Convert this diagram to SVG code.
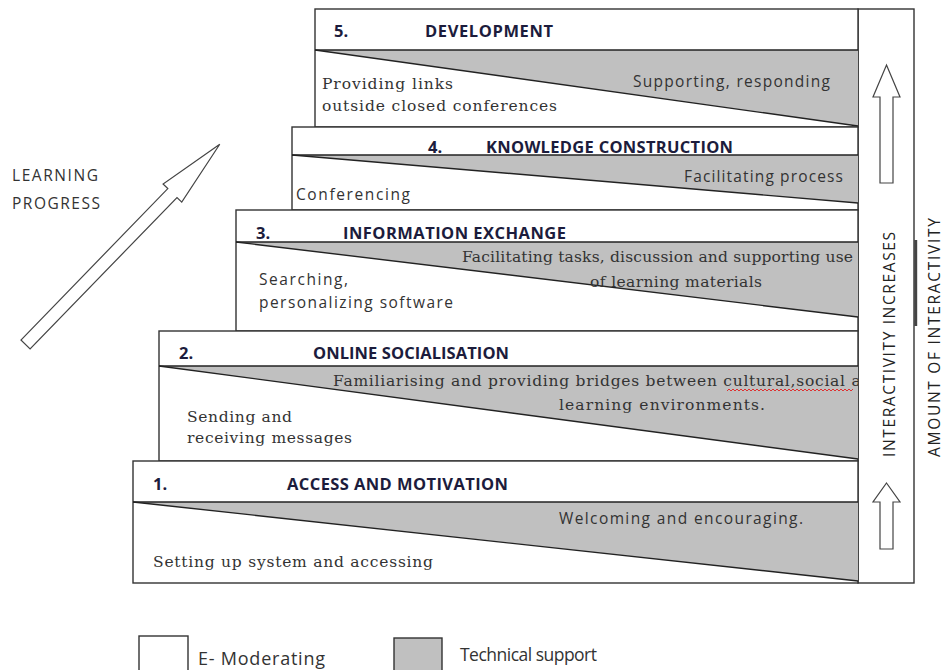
<svg xmlns="http://www.w3.org/2000/svg" width="945" height="670" viewBox="0 0 945 670">
<style>
.box{fill:#fff;stroke:#333;stroke-width:1.4}
.tri{fill:#c0c0c0;stroke:none}
.ln{stroke:#222;stroke-width:1.4;fill:none}
.hd{font-family:"Open Sans","Liberation Sans",sans-serif;font-size:16.5px;font-weight:bold;fill:#1c1c3c}
.ss{font-family:"Open Sans","Liberation Sans",sans-serif;font-size:15.5px;fill:#333}
.sf{font-family:"DejaVu Serif","Liberation Serif",serif;font-size:15.5px;fill:#333}
.arr{fill:#fff;stroke:#444;stroke-width:1.2}
.vt{font-family:"Open Sans","Liberation Sans",sans-serif;font-size:15.5px;fill:#222}
</style>
<defs>
<clipPath id="c2"><rect x="159" y="331" width="699" height="130"/></clipPath>
</defs>

<g id="column">
<rect class="box" x="858" y="9" width="56" height="574"/>
<line x1="915.7" y1="240" x2="915.7" y2="326" stroke="#444" stroke-width="3"/>
<polygon class="arr" points="886.5,65 900,97 893,97 893,183 880,183 880,97 873,97"/>
<polygon class="arr" points="886.5,483 900,502 893,502 893,549 880,549 880,502 873,502"/>
<text class="vt" transform="translate(895,344.5) rotate(-90)" text-anchor="middle" textLength="225">INTERACTIVITY INCREASES</text>
<text class="vt" transform="translate(940,337.5) rotate(-90)" text-anchor="middle" textLength="239">AMOUNT OF INTERACTIVITY</text>
</g>

<g id="step5">
<rect class="box" x="315" y="9" width="543" height="118"/>
<polygon class="tri" points="315,50 858,50 858,126"/>
<line class="ln" x1="315" y1="50" x2="858" y2="50"/>
<line class="ln" x1="315" y1="50" x2="858" y2="126"/>
<text class="hd" x="334" y="37">5.</text>
<text class="hd" x="425" y="37" textLength="128">DEVELOPMENT</text>
<text class="sf" x="322" y="89" textLength="131">Providing links</text>
<text class="sf" x="322" y="111" textLength="235">outside closed conferences</text>
<text class="ss" x="633" y="87" textLength="197">Supporting, responding</text>
</g>

<g id="step4">
<rect class="box" x="292" y="127" width="566" height="83"/>
<polygon class="tri" points="292,155 858,155 858,203"/>
<line class="ln" x1="292" y1="155" x2="858" y2="155"/>
<line class="ln" x1="292" y1="155" x2="858" y2="203"/>
<text class="hd" x="428" y="153">4.</text>
<text class="hd" x="486" y="153" textLength="247">KNOWLEDGE CONSTRUCTION</text>
<text class="ss" x="296" y="200" textLength="114">Conferencing</text>
<text class="ss" x="684" y="182" textLength="159">Facilitating process</text>
</g>

<g id="step3">
<rect class="box" x="236" y="210" width="622" height="121"/>
<polygon class="tri" points="236,242 858,242 858,317"/>
<line class="ln" x1="236" y1="242" x2="858" y2="242"/>
<line class="ln" x1="236" y1="242" x2="858" y2="317"/>
<text class="hd" x="256" y="239">3.</text>
<text class="hd" x="343" y="239" textLength="223">INFORMATION EXCHANGE</text>
<text class="sf" x="462" y="262" textLength="391">Facilitating tasks, discussion and supporting use</text>
<text class="sf" x="590" y="287" textLength="172">of learning materials</text>
<text class="ss" x="259" y="285" textLength="89">Searching,</text>
<text class="ss" x="259" y="308" textLength="194">personalizing software</text>
</g>

<g id="step2">
<rect class="box" x="159" y="331" width="699" height="130"/>
<polygon class="tri" points="159,366 858,366 858,459"/>
<line class="ln" x1="159" y1="366" x2="858" y2="366"/>
<line class="ln" x1="159" y1="366" x2="858" y2="459"/>
<text class="hd" x="179" y="359">2.</text>
<text class="hd" x="313" y="359" textLength="196">ONLINE SOCIALISATION</text>
<g clip-path="url(#c2)">
<text class="sf" x="333" y="386" textLength="549">Familiarising and providing bridges between cultural,social and</text>
</g>
<path d="M727,391 l2,-2 l2,2 l2,-2 l2,2 l2,-2 l2,2 l2,-2 l2,2 l2,-2 l2,2 l2,-2 l2,2 l2,-2 l2,2 l2,-2 l2,2 l2,-2 l2,2 l2,-2 l2,2 l2,-2 l2,2 l2,-2 l2,2 l2,-2 l2,2 l2,-2 l2,2 l2,-2 l2,2 l2,-2 l2,2 l2,-2 l2,2 l2,-2 l2,2 l2,-2 l2,2 l2,-2 l2,2 l2,-2 l2,2 l2,-2 l2,2 l2,-2 l2,2 l2,-2 l2,2 l2,-2 l2,2 l2,-2 l2,2 l2,-2 l2,2 l2,-2 l2,2 l2,-2 l2,2 l2,-2 l2,2 l2,-2 l2,2 l2,-2" fill="none" stroke="#e02020" stroke-width="0.9"/>
<text class="sf" x="559" y="410" textLength="206">learning  environments.</text>
<text class="sf" x="187" y="422" textLength="105">Sending and</text>
<text class="sf" x="187" y="443" textLength="165">receiving messages</text>
</g>

<g id="step1">
<rect class="box" x="133" y="461" width="725" height="122"/>
<polygon class="tri" points="133,502 858,502 858,581"/>
<line class="ln" x1="133" y1="502" x2="858" y2="502"/>
<line class="ln" x1="133" y1="502" x2="858" y2="581"/>
<text class="hd" x="153" y="490">1.</text>
<text class="hd" x="287" y="490" textLength="221">ACCESS AND MOTIVATION</text>
<text class="ss" x="559" y="524" textLength="244">Welcoming and encouraging.</text>
<text class="sf" x="153" y="567" textLength="280">Setting up system and accessing</text>
</g>

<g id="progress">
<polygon class="arr" transform="translate(25.5,344.5) rotate(-45.87)" points="0,-6.4 211,-6.4 211,-13 279,0 211,13 211,6.4 0,6.4"/>
<text class="ss" x="12" y="181" textLength="86">LEARNING</text>
<text class="ss" x="12" y="209" textLength="88">PROGRESS</text>
</g>

<g id="legend">
<rect x="139" y="636" width="49" height="40" fill="#fff" stroke="#333" stroke-width="1.4"/>
<text class="ss" x="198" y="665" textLength="127" style="font-size:18px">E- Moderating</text>
<rect x="394" y="638" width="48" height="40" fill="#c0c0c0" stroke="#333" stroke-width="1.4"/>
<text class="ss" x="460" y="661" textLength="137" style="font-size:17.5px">Technical support</text>
</g>
</svg>
